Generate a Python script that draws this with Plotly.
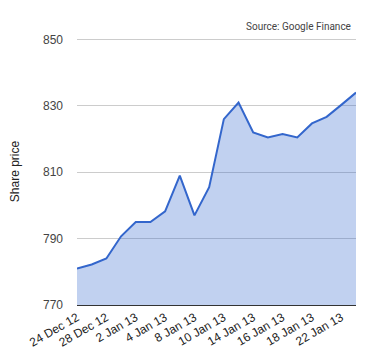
import plotly.graph_objects as go

dates = ["24 Dec 12", "27 Dec 12", "28 Dec 12", "31 Dec 12", "2 Jan 13", "3 Jan 13",
         "4 Jan 13", "7 Jan 13", "8 Jan 13", "9 Jan 13", "10 Jan 13", "11 Jan 13",
         "14 Jan 13", "15 Jan 13", "16 Jan 13", "17 Jan 13", "18 Jan 13", "21 Jan 13",
         "22 Jan 13", "23 Jan 13"]
prices = [781.0, 782.2, 784.0, 790.7, 795.0, 795.0, 798.2, 809.0, 797.0, 805.5,
          826.0, 831.0, 822.0, 820.5, 821.5, 820.5, 824.7, 826.7, 830.3, 834.0]
y_ticks = [770, 790, 810, 830, 850]
shown_dates = dates[::2]

fig = go.Figure()
fig.add_trace(go.Scatter(
    x=dates, y=prices, mode="lines",
    line=dict(color="#3366cc", width=2),
    fill="tozeroy", fillcolor="rgba(51,102,204,0.3)",
    hoverinfo="skip",
))

fig.update_layout(
    width=380, height=360,
    margin=dict(l=69, r=32, t=30, b=63),
    paper_bgcolor="white", plot_bgcolor="white",
    showlegend=False,
    font=dict(family="Liberation Sans, Arial, sans-serif", size=12, color="#444"),
    xaxis=dict(
        type="category", range=[0, len(dates) - 1], automargin=False,
        tickmode="array", tickvals=shown_dates, ticktext=shown_dates,
        tickangle=-30, showgrid=False, zeroline=False,
        showline=True, linecolor="#333", linewidth=1,
        ticks="", tickfont=dict(size=12, color="#222"),
    ),
    yaxis=dict(
        range=[770, 850.45], tickmode="array", tickvals=y_ticks, automargin=False,
        showgrid=True, gridcolor="#cccccc", gridwidth=1, zeroline=False,
        ticks="", ticklabelstandoff=13, tickfont=dict(size=12, color="#444"),
        title=dict(text="Share price", font=dict(size=12, color="#222"), standoff=22),
    ),
    annotations=[dict(
        text="Source: Google Finance", xref="paper", yref="paper",
        x=1, y=1, xanchor="right", yanchor="bottom", yshift=4, xshift=-3,
        showarrow=False, font=dict(family="Roboto, sans-serif", size=10, color="#444"),
    )],
)

fig.write_html("out.html")
